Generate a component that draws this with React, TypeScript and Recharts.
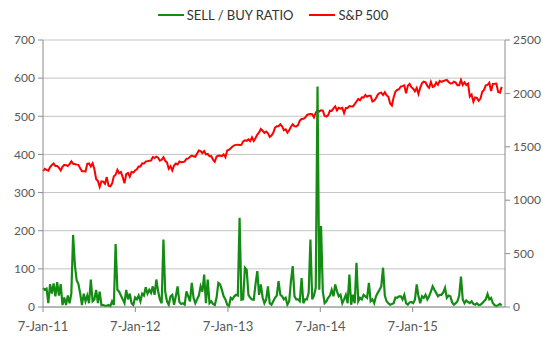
import React from "react";
import { ComposedChart, Line, XAxis, YAxis, CartesianGrid } from "recharts";

// weekly readings, first point 7-Jan-11
const sellBuyRatio = [
  50, 45, 48, 10, 60, 35, 62, 28, 65, 30,
  60, 5, 25, 5, 30, 10, 35, 189, 110, 70,
  60, 35, 5, 35, 15, 30, 10, 72, 15, 20,
  45, 10, 40, 5, 5, 3, 3, 5, 2, 15,
  5, 165, 45, 40, 30, 20, 10, 45, 20, 35,
  10, 5, 25, 20, 30, 15, 35, 30, 52, 35,
  45, 37, 54, 32, 72, 41, 20, 10, 177, 40,
  15, 6, 28, 32, 6, 28, 54, 13, 8, 10,
  6, 41, 28, 15, 63, 24, 10, 20, 30, 54,
  40, 85, 10, 72, 10, 15, 8, 5, 24, 63,
  59, 45, 28, 20, 6, 2, 24, 20, 28, 32,
  30, 234, 19, 20, 103, 98, 32, 24, 20, 19,
  60, 94, 32, 59, 25, 10, 20, 54, 10, 6,
  15, 24, 30, 68, 32, 28, 20, 24, 6, 15,
  68, 107, 28, 20, 20, 15, 76, 10, 20, 20,
  37, 177, 20, 30, 50, 578, 45, 212, 40, 10,
  15, 24, 30, 45, 28, 59, 41, 28, 32, 10,
  20, 32, 10, 85, 6, 32, 10, 116, 15, 24,
  20, 32, 28, 24, 63, 15, 20, 10, 28, 37,
  45, 54, 103, 30, 15, 10, 6, 8, 10, 25,
  24, 28, 28, 20, 32, 10, 6, 12, 13, 10,
  19, 59, 28, 10, 28, 24, 32, 20, 28, 40,
  54, 45, 37, 28, 32, 32, 38, 50, 24, 30,
  28, 12, 6, 10, 15, 30, 80, 20, 10, 17,
  13, 10, 15, 8, 6, 10, 5, 6, 10, 15,
  20, 34, 20, 24, 10, 5, 2, 5, 8, 4,
];

const sp500 = [
  // 2011
  1271, 1293, 1283, 1276, 1311, 1329, 1343, 1320, 1321, 1304,
  1279, 1313, 1332, 1328, 1320, 1337, 1364, 1340, 1338, 1333,
  1331, 1300, 1271, 1272, 1268, 1340, 1344, 1316, 1345, 1292,
  1199, 1179, 1124, 1177, 1174, 1154, 1216, 1136, 1131, 1155,
  1224, 1238, 1285, 1253, 1264, 1216, 1159, 1244, 1255, 1220,
  1265, 1258,
  // 2012
  1278, 1289, 1315, 1316, 1345, 1343, 1362, 1366, 1370, 1371,
  1404, 1397, 1408, 1398, 1370, 1378, 1403, 1369, 1353, 1295,
  1318, 1278, 1325, 1343, 1335, 1362, 1355, 1357, 1363, 1386,
  1391, 1406, 1418, 1411, 1407, 1438, 1466, 1460, 1441, 1461,
  1429, 1433, 1412, 1414, 1380, 1360, 1409, 1416, 1418, 1413,
  1430, 1402,
  // 2013
  1466, 1472, 1486, 1503, 1513, 1518, 1520, 1516, 1518, 1551,
  1561, 1556, 1569, 1553, 1588, 1555, 1582, 1614, 1634, 1667,
  1650, 1631, 1643, 1627, 1593, 1606, 1632, 1680, 1692, 1692,
  1710, 1691, 1656, 1664, 1633, 1655, 1688, 1710, 1692, 1691,
  1703, 1745, 1760, 1762, 1771, 1798, 1805, 1806, 1805, 1775,
  1819, 1841,
  // 2014
  1831, 1842, 1839, 1790, 1783, 1797, 1838, 1836, 1859, 1878,
  1841, 1866, 1858, 1865, 1816, 1864, 1863, 1881, 1878, 1878,
  1900, 1924, 1949, 1936, 1963, 1961, 1985, 1968, 1978, 1978,
  1925, 1931, 1955, 1988, 2003, 2008, 1985, 2011, 1982, 1968,
  1906, 1887, 1965, 2018, 2032, 2039, 2064, 2068, 2075, 2002,
  2071, 2089,
  // 2015
  2058, 2045, 2019, 2051, 1995, 2055, 2097, 2110, 2104, 2071,
  2053, 2108, 2061, 2067, 2102, 2081, 2117, 2108, 2116, 2122,
  2126, 2107, 2092, 2094, 2110, 2101, 2077, 2076, 2127, 2079,
  2104, 2078, 2092, 1971, 1989, 1921, 1962, 1958, 1931, 1951,
  2015, 2033, 2075, 2079, 2100, 2023, 2089, 2090, 2092, 2012,
  2006, 2061,
];

// days since 7-Jan-11 for each year label
const yearTickDays = [0, 365, 731, 1096, 1461];
const yearTickLabels = ["7-Jan-11", "7-Jan-12", "7-Jan-13", "7-Jan-14", "7-Jan-15"];
const ratioTicks = [0, 100, 200, 300, 400, 500, 600, 700];
const spxTicks = [0, 500, 1000, 1500, 2000, 2500];

const GREEN = "#148c14";
const RED = "#ff0000";
const AXIS = "#8c8c8c";
const TEXT = "#595959";
const FONT = "Lato, 'Open Sans', sans-serif";

const rows = sellBuyRatio.map((v, i) => ({ day: i * 7, ratio: v, spx: sp500[i] }));

const LegendItem = ({ color, label }: { color: string; label: string }) => (
  <div style={{ display: "flex", alignItems: "center", marginRight: 16 }}>
    <div style={{ width: 26, height: 2, background: color, marginRight: 3 }} />
    <span>{label}</span>
  </div>
);

export default function App() {
  return (
    <div style={{ position: "absolute", left: 0, top: 0, width: 550, height: 357, background: "#fff", fontFamily: FONT }}>
      <div style={{ position: "absolute", top: 7, left: 0, width: 550, display: "flex", justifyContent: "center", fontSize: 13, color: "#333", paddingLeft: 12, boxSizing: "border-box" }}>
        <LegendItem color={GREEN} label="SELL / BUY RATIO" />
        <LegendItem color={RED} label="S&P 500" />
      </div>
      <ComposedChart width={550} height={357} data={rows} margin={{ top: 40, right: 0, bottom: 20, left: 0 }}>
        <CartesianGrid yAxisId="left" vertical={false} stroke="#c4c4c4" />
        <XAxis
          dataKey="day"
          type="number"
          domain={[0, 1826]}
          ticks={yearTickDays}
          interval={0}
          tickFormatter={(d: number) => yearTickLabels[yearTickDays.indexOf(d)]}
          height={30}
          tickSize={5}
          tickMargin={10}
          stroke={AXIS}
          tick={{ fill: TEXT, fontSize: 13, fontFamily: FONT }}
        />
        <YAxis
          yAxisId="left"
          domain={[0, 700]}
          ticks={ratioTicks}
          interval={0}
          width={43}
          tickSize={5}
          tickMargin={3}
          stroke={AXIS}
          tick={{ fill: TEXT, fontSize: 12, fontFamily: FONT }}
        />
        <YAxis
          yAxisId="right"
          orientation="right"
          domain={[0, 2500]}
          ticks={spxTicks}
          interval={0}
          width={45}
          tickSize={5}
          tickMargin={3}
          stroke={AXIS}
          tick={{ fill: TEXT, fontSize: 12, fontFamily: FONT }}
        />
        <Line yAxisId="right" dataKey="spx" stroke={RED} strokeWidth={2} dot={false} isAnimationActive={false} />
        <Line yAxisId="left" dataKey="ratio" stroke={GREEN} strokeWidth={2.2} dot={false} isAnimationActive={false} />
      </ComposedChart>
    </div>
  );
}
